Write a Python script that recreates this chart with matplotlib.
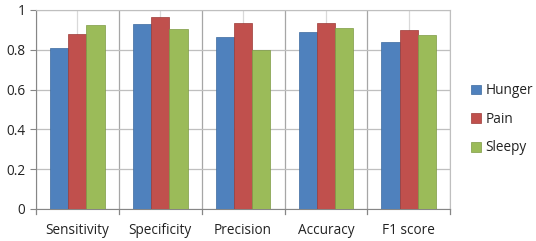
import matplotlib.pyplot as plt
import numpy as np

categories = ['Sensitivity', 'Specificity', 'Precision', 'Accuracy', 'F1 score']
hunger = [0.81, 0.931, 0.866, 0.888, 0.839]
pain = [0.878, 0.963, 0.933, 0.933, 0.901]
sleepy = [0.925, 0.905, 0.80, 0.908, 0.876]

series = [('Hunger', hunger, '#4F81BD', '#3C6A9E'),
          ('Pain', pain, '#C0504D', '#9C3A37'),
          ('Sleepy', sleepy, '#9BBB59', '#7E9A45')]

plt.rcParams['font.family'] = ['Open Sans', 'DejaVu Sans']

fig = plt.figure(figsize=(5.36, 2.41), dpi=100)
ax = fig.add_axes([0.067, 0.133, 0.773, 0.826])

x = np.arange(len(categories))
w = 0.22
for i, (name, vals, col, edge) in enumerate(series):
    ax.bar(x + (i - 1) * w, vals, w, color=col, edgecolor=edge, linewidth=0.5,
           label=name, zorder=3)

ax.set_xlim(-0.5, len(categories) - 0.5)
ax.set_ylim(0, 1)
ax.set_yticks(np.arange(0, 1.01, 0.2))
ax.set_yticklabels(['0', '0.2', '0.4', '0.6', '0.8', '1'])
ax.set_xticks(x)
ax.set_xticklabels(categories)
ax.tick_params(axis='x', length=0, labelsize=9.8, pad=10, labelcolor='#222222')
ax.tick_params(axis='y', length=4, labelsize=9.8, color='#868686', labelcolor='#222222')

ax.grid(axis='y', color='#BFBFBF', linewidth=0.9, zorder=0)
for c in x:
    ax.axvline(c, color='#D9D9D9', linewidth=0.9, zorder=0)
for b in np.arange(-0.5, len(categories), 1):
    ax.axvline(b, color='#A6A6A6', linewidth=0.9, zorder=1)
    ax.plot([b, b], [0, -0.025], color='#868686', linewidth=0.9,
            clip_on=False, transform=ax.transData)

for s in ['left', 'bottom']:
    ax.spines[s].set_color('#868686')
for s in ['top', 'right']:
    ax.spines[s].set_color('#BFBFBF')

ax.legend(loc='center left', bbox_to_anchor=(1.02, 0.45), frameon=False,
          fontsize=9.8, handlelength=0.75, handleheight=0.75, handletextpad=0.35,
          labelspacing=1.0, labelcolor='#222222')

fig.savefig('out.png', dpi=100)
